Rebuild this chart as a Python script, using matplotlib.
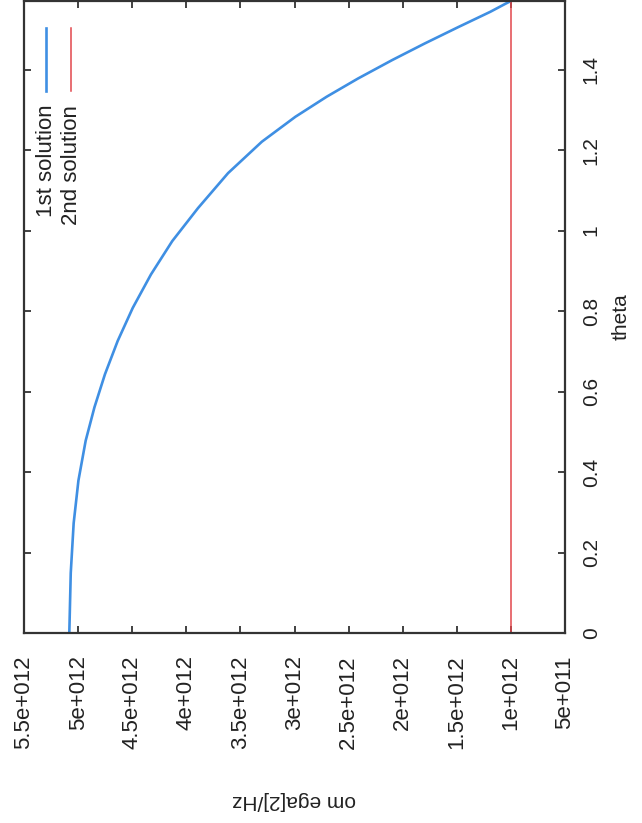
import matplotlib
matplotlib.use("Agg")
import matplotlib.pyplot as plt

plt.rcParams["font.family"] = ["Liberation Sans", "DejaVu Sans"]

# 1st solution (theta in rad, omega in Hz)
theta_1 = [0.003, 0.149, 0.273, 0.379, 0.478, 0.561, 0.643, 0.726, 0.808,
           0.891, 0.974, 1.056, 1.143, 1.221, 1.283, 1.333, 1.378, 1.424,
           1.465, 1.506, 1.544, 1.564, 1.5708]
omega_1 = [5.081e12, 5.068e12, 5.041e12, 4.997e12, 4.930e12, 4.849e12,
           4.752e12, 4.634e12, 4.495e12, 4.327e12, 4.130e12, 3.892e12,
           3.614e12, 3.302e12, 2.992e12, 2.702e12, 2.414e12, 2.097e12,
           1.798e12, 1.486e12, 1.190e12, 1.050e12, 1.0e12]

# 2nd solution: constant
theta_2 = [0.0, 1.5708]
omega_2 = [1.0e12, 1.0e12]

series_labels = ["1st solution", "2nd solution"]
series_colors = ["#3f8fe3", "#e2464c"]
series_widths = [1.9, 1.1]

omega_ticks = [5.5e12, 5e12, 4.5e12, 4e12, 3.5e12, 3e12, 2.5e12, 2e12,
               1.5e12, 1e12, 5e11]
omega_tick_labels = ["5.5e+012", "5e+012", "4.5e+012", "4e+012", "3.5e+012",
                     "3e+012", "2.5e+012", "2e+012", "1.5e+012", "1e+012",
                     "5e+011"]
theta_ticks = [0, 0.2, 0.4, 0.6, 0.8, 1.0, 1.2, 1.4]
theta_tick_labels = ["0", "0.2", "0.4", "0.6", "0.8", "1", "1.2", "1.4"]

# the page is scanned rotated by 90 degrees: omega runs along the bottom,
# theta along the right side
fig = plt.figure(figsize=(6.42, 8.23), dpi=100)
ax = fig.add_axes([24 / 642, 1 - 633 / 823, 541 / 642, 632 / 823])

ax.plot(omega_1, theta_1, color=series_colors[0], lw=series_widths[0],
        solid_joinstyle="round")
ax.plot(omega_2, theta_2, color=series_colors[1], lw=series_widths[1])

ax.set_xlim(5.5e12, 5e11)
ax.set_ylim(0, 1.5708)

text_color = "#222222"
ax.set_xticks(omega_ticks)
ax.set_xticklabels(omega_tick_labels, rotation=90, va="top", ha="center",
                   fontsize=16, color=text_color)
ax.yaxis.tick_right()
ax.yaxis.set_label_position("right")
ax.set_yticks(theta_ticks)
ax.set_yticklabels(theta_tick_labels, rotation=90, va="center", ha="left",
                   fontsize=15, color=text_color)

ax.tick_params(axis="both", direction="in", length=5, width=1.3,
               color="#333333", top=True, left=True, right=True, bottom=True)
ax.tick_params(axis="x", pad=16)
ax.tick_params(axis="y", pad=12)

ax.set_ylabel("theta", rotation=90, fontsize=15, color=text_color, labelpad=8)
ax.set_xlabel("om ega[2]/Hz", rotation=180, fontsize=15, color=text_color,
              labelpad=30)

for spine in ax.spines.values():
    spine.set_linewidth(1.6)
    spine.set_color("#333333")

# legend drawn by hand, rotated like the rest of the page
legend_x = [0.0407, 0.0869]
for lx, label, color, lw in zip(legend_x, series_labels, series_colors,
                                series_widths):
    ax.plot([lx, lx], [0.858, 0.957], transform=ax.transAxes, color=color,
            lw=lw, clip_on=False)
    ax.text(lx, 0.836, label, transform=ax.transAxes, rotation=90,
            ha="center", va="top", fontsize=16, color=text_color)

fig.savefig("out.png", dpi=100, facecolor="white")
